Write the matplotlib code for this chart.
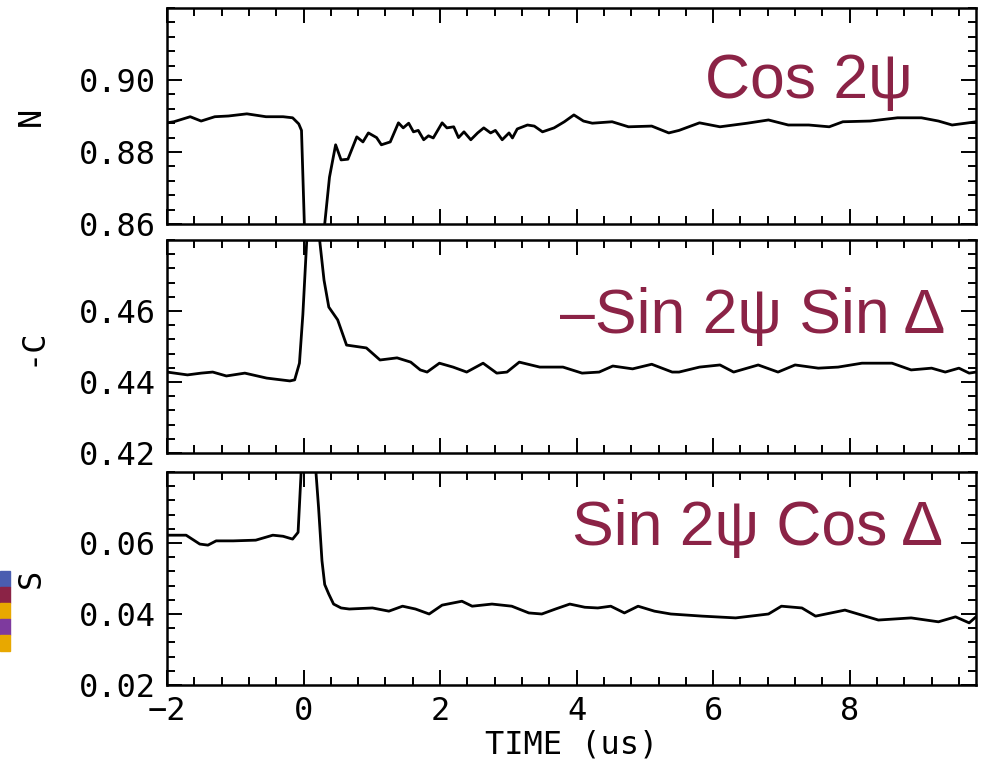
import matplotlib
matplotlib.use("Agg")
import matplotlib.pyplot as plt
from matplotlib.ticker import MultipleLocator, FormatStrFormatter
from matplotlib.patches import Rectangle

# ---------------- data ----------------
t_N = [-2.0, -1.9, -1.66, -1.5, -1.3, -1.1, -0.83, -0.55, -0.3, -0.16, -0.07, -0.03,
       0.02, 0.28, 0.31, 0.38, 0.47, 0.55, 0.65, 0.78, 0.87, 0.95, 1.07, 1.14, 1.27,
       1.39, 1.46, 1.54, 1.61, 1.68, 1.76, 1.83, 1.90, 2.03, 2.10, 2.20, 2.27, 2.35,
       2.45, 2.55, 2.64, 2.74, 2.81, 2.91, 3.01, 3.06, 3.13, 3.28, 3.38, 3.50, 3.67,
       3.82, 3.96, 4.10, 4.23, 4.52, 4.76, 5.10, 5.35, 5.50, 5.80, 6.10, 6.50, 6.81,
       7.10, 7.40, 7.70, 7.90, 8.30, 8.70, 9.05, 9.30, 9.50, 9.70, 9.85]
v_N = [0.8881, 0.8884, 0.8898, 0.8886, 0.8898, 0.8900, 0.8906, 0.8898, 0.8898, 0.8895,
       0.8878, 0.8860, 0.8550, 0.8550, 0.8600, 0.8730, 0.8820, 0.8778, 0.8780, 0.8842,
       0.8828, 0.8853, 0.8840, 0.8820, 0.8828, 0.8881, 0.8867, 0.8880, 0.8856, 0.8860,
       0.8834, 0.8845, 0.8839, 0.8881, 0.8867, 0.8870, 0.8840, 0.8856, 0.8834, 0.8853,
       0.8867, 0.8853, 0.8860, 0.8834, 0.8853, 0.8839, 0.8864, 0.8875, 0.8872, 0.8856,
       0.8867, 0.8884, 0.8903, 0.8886, 0.8880, 0.8884, 0.8870, 0.8872, 0.8853, 0.8860,
       0.8881, 0.8870, 0.8880, 0.8889, 0.8875, 0.8875, 0.8870, 0.8884, 0.8886, 0.8895,
       0.8895, 0.8886, 0.8875, 0.8880, 0.8884]

t_C = [-2.0, -1.7, -1.5, -1.33, -1.13, -0.86, -0.54, -0.2, -0.13, -0.06, -0.01, 0.05,
       0.15, 0.23, 0.30, 0.37, 0.50, 0.63, 0.92, 1.12, 1.37, 1.57, 1.71, 1.81, 1.99,
       2.19, 2.39, 2.63, 2.83, 2.98, 3.16, 3.46, 3.80, 4.08, 4.33, 4.53, 4.82, 5.10,
       5.40, 5.50, 5.80, 6.10, 6.30, 6.66, 6.95, 7.20, 7.54, 7.83, 8.18, 8.62, 8.90,
       9.20, 9.40, 9.60, 9.75, 9.85]
v_C = [0.4428, 0.4420, 0.4425, 0.4428, 0.4417, 0.4425, 0.4411, 0.4403, 0.4406, 0.4453,
       0.4590, 0.4810, 0.4860, 0.4810, 0.4687, 0.4611, 0.4575, 0.4504, 0.4496, 0.4462,
       0.4468, 0.4456, 0.4434, 0.4428, 0.4453, 0.4442, 0.4428, 0.4453, 0.4425, 0.4428,
       0.4456, 0.4442, 0.4442, 0.4425, 0.4428, 0.4445, 0.4437, 0.4450, 0.4428, 0.4428,
       0.4442, 0.4448, 0.4428, 0.4448, 0.4428, 0.4448, 0.4439, 0.4442, 0.4453, 0.4453,
       0.4434, 0.4439, 0.4428, 0.4439, 0.4425, 0.4428]

t_S = [-2.0, -1.72, -1.52, -1.4, -1.28, -1.03, -0.7, -0.45, -0.3, -0.16, -0.08, -0.03,
       0.05, 0.17, 0.22, 0.27, 0.31, 0.37, 0.44, 0.55, 0.67, 1.01, 1.25, 1.45, 1.64,
       1.84, 2.03, 2.32, 2.47, 2.76, 3.05, 3.30, 3.49, 3.69, 3.90, 4.12, 4.31, 4.50,
       4.70, 4.90, 5.14, 5.38, 5.84, 6.33, 6.81, 7.00, 7.30, 7.50, 7.93, 8.42, 8.90,
       9.30, 9.55, 9.75, 9.85]
v_S = [0.0622, 0.0622, 0.0597, 0.0594, 0.0606, 0.0606, 0.0608, 0.0622, 0.0619, 0.0611,
       0.0630, 0.0820, 0.0850, 0.0830, 0.0700, 0.0550, 0.0483, 0.0456, 0.0428, 0.0417,
       0.0414, 0.0417, 0.0408, 0.0422, 0.0414, 0.0400, 0.0425, 0.0436, 0.0422, 0.0428,
       0.0422, 0.0403, 0.0400, 0.0414, 0.0428, 0.0419, 0.0417, 0.0422, 0.0403, 0.0422,
       0.0408, 0.0400, 0.0394, 0.0389, 0.0400, 0.0422, 0.0417, 0.0394, 0.0411, 0.0383,
       0.0389, 0.0378, 0.0392, 0.0375, 0.0392]

panel_labels = ["N", "-C", "S"]
panel_titles = ["Cos 2\u03c8", "\u2013Sin 2\u03c8 Sin \u0394", "Sin 2\u03c8 Cos \u0394"]
y_limits = [(0.86, 0.92), (0.42, 0.48), (0.02, 0.08)]
y_ticks = [[0.86, 0.88, 0.90], [0.42, 0.44, 0.46], [0.02, 0.04, 0.06]]
x_ticks = [-2, 0, 2, 4, 6, 8]
x_label = "TIME (us)"
strip_colors = ["#4A5DB0", "#8B2346", "#E8A800", "#7E3A9E", "#E8A800"]

# ---------------- figure ----------------
W, H = 982, 762
fig = plt.figure(figsize=(W / 100, H / 100), dpi=100)
mono = "DejaVu Sans Mono"
red = "#8B2346"

left = 167 / W
width = (976 - 167) / W
panels_px = [(8, 224), (240, 453), (472, 685)]
series = [(t_N, v_N), (t_C, v_C), (t_S, v_S)]
title_pos = [(913, 98), (945, 333), (943, 545)]

for i, ((top, bot), (tt, vv)) in enumerate(zip(panels_px, series)):
    ax = fig.add_axes([left, 1 - bot / H, width, (bot - top) / H])
    ax.plot(tt, vv, color="black", lw=2.0)
    ax.set_xlim(-2, 9.85)
    ax.set_ylim(*y_limits[i])
    ax.set_yticks(y_ticks[i])
    ax.yaxis.set_major_formatter(FormatStrFormatter("%.2f"))
    ax.yaxis.set_minor_locator(MultipleLocator(0.004))
    ax.set_xticks(x_ticks)
    ax.xaxis.set_minor_locator(MultipleLocator(0.4))
    ax.tick_params(which="both", direction="in", top=True, right=True,
                   width=1.4, labelsize=23, pad=8)
    ax.tick_params(which="major", length=11)
    ax.tick_params(which="minor", length=6)
    for lab in ax.get_yticklabels() + ax.get_xticklabels():
        lab.set_family(mono)
    for s in ax.spines.values():
        s.set_linewidth(1.8)
    ax.set_ylabel(panel_labels[i], fontsize=23, family=mono)
    ax.yaxis.set_label_coords(-0.148, 0.5)
    if i < 2:
        ax.tick_params(labelbottom=False)
    else:
        ax.set_xlabel(x_label, fontsize=23, family=mono, labelpad=2)
    px, py = title_pos[i]
    fig.text(px / W, 1 - py / H, panel_titles[i], color=red, fontsize=45,
             family="Liberation Sans", ha="right", va="baseline")

# decorative colour strip at left edge
for k, c in enumerate(strip_colors):
    y0 = 571 + 16 * k
    fig.patches.append(Rectangle((0, 1 - (y0 + 16) / H), 10 / W, 16 / H,
                                 transform=fig.transFigure, color=c, zorder=5))

fig.savefig("out.png", dpi=100)
